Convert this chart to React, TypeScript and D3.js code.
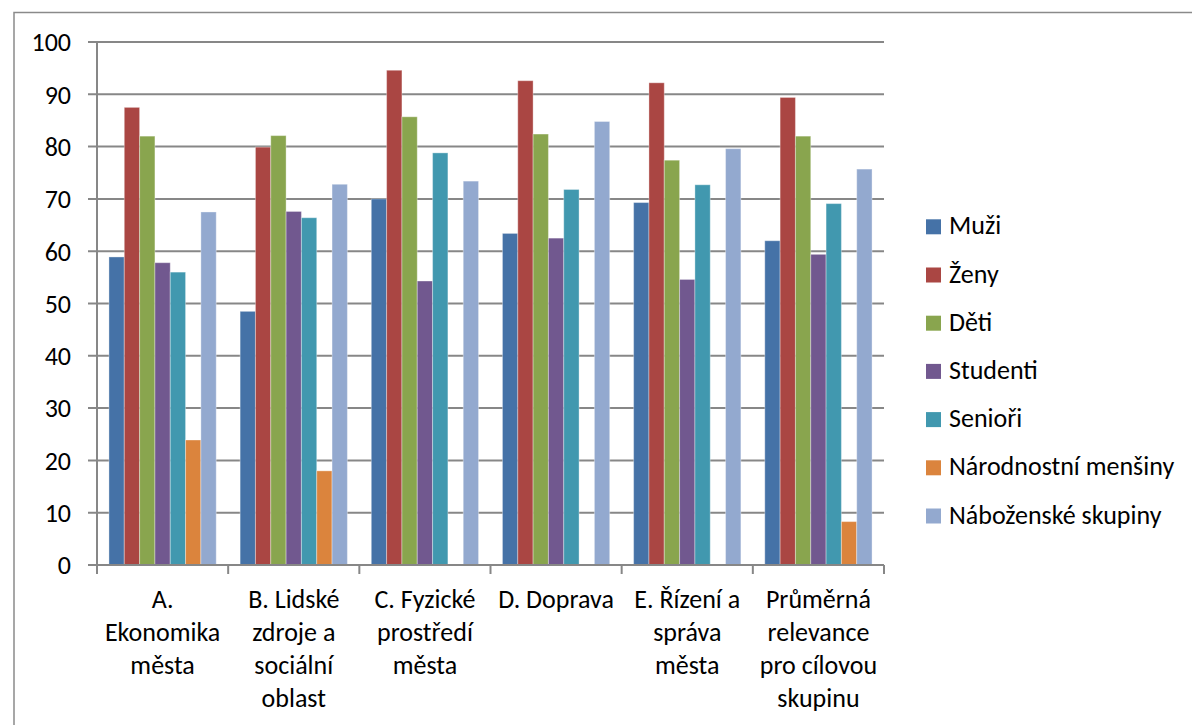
import React from "react";
import * as d3 from "d3";

const categories: string[] = [
  "A.\nEkonomika\nměsta",
  "B. Lidské\nzdroje a\nsociální\noblast",
  "C. Fyzické\nprostředí\nměsta",
  "D. Doprava",
  "E. Řízení a\nspráva\nměsta",
  "Průměrná\nrelevance\npro cílovou\nskupinu",
];

const seriesNames: string[] = [
  "Muži",
  "Ženy",
  "Děti",
  "Studenti",
  "Senioři",
  "Národnostní menšiny",
  "Náboženské skupiny",
];

const muzi = [58.9, 48.5, 70.0, 63.4, 69.3, 62.0];
const zeny = [87.5, 79.9, 94.6, 92.6, 92.2, 89.4];
const deti = [82.0, 82.1, 85.7, 82.4, 77.4, 82.0];
const studenti = [57.8, 67.6, 54.3, 62.5, 54.6, 59.4];
const seniori = [56.0, 66.4, 78.8, 71.8, 72.7, 69.1];
const narodnostni = [23.9, 18.0, 0, 0, 0, 8.3];
const nabozenske = [67.5, 72.8, 73.4, 84.8, 79.6, 75.7];

const seriesValues: number[][] = [muzi, zeny, deti, studenti, seniori, narodnostni, nabozenske];

const colors: string[] = ["#4572A7", "#AA4643", "#89A54E", "#71588F", "#4198AF", "#DB843D", "#93A9CF"];

const yTicks: number[] = [0, 10, 20, 30, 40, 50, 60, 70, 80, 90, 100];

export default function App() {
  const W = 1192;
  const H = 725;
  const left = 97;
  const right = 884;
  const top = 42;
  const bottom = 565;
  const font = "Carlito, Calibri, Lato, sans-serif";
  const fs = 26;
  const grid = "#878787";

  const x0 = d3.scaleBand<number>().domain(d3.range(categories.length)).range([left, right]).padding(0);
  const x1 = d3
    .scaleBand<number>()
    .domain(d3.range(seriesNames.length))
    .range([0, x0.bandwidth()])
    .paddingInner(0)
    .paddingOuter(0.78);
  const y = d3.scaleLinear().domain([0, 100]).range([bottom, top]);

  const groupEdges = d3.range(categories.length + 1).map((i) =>
    i < categories.length ? (x0(i) as number) : right
  );

  return (
    <svg
      width={W}
      height={H}
      style={{ position: "absolute", left: 0, top: 0, background: "#fff" }}
      fontFamily={font}
    >
      <rect x={0} y={0} width={W} height={H} fill="#fff" />
      <rect x={14} y={12.5} width={W + 50} height={H + 50} fill="none" stroke="#8a8a8a" strokeWidth={1.5} />

      {/* gridlines */}
      {yTicks.map((t) => (
        <line key={"g" + t} x1={left - 9} x2={right} y1={y(t)} y2={y(t)} stroke={grid} strokeWidth={2} />
      ))}

      {/* bars */}
      {categories.map((_, ci) => (
        <g key={"c" + ci} transform={`translate(${x0(ci)},0)`}>
          {seriesValues.map((vals, si) => {
            const v = vals[ci];
            if (!v) return null;
            return (
              <rect
                key={"b" + si}
                x={x1(si) as number}
                y={y(v)}
                width={x1.bandwidth()}
                height={y(0) - y(v)}
                fill={colors[si]}
                stroke="#ffffff"
                strokeOpacity={0.35}
                strokeWidth={1}
              />
            );
          })}
        </g>
      ))}

      {/* axes */}
      <line x1={left} x2={left} y1={top} y2={bottom} stroke={grid} strokeWidth={2} />
      <line x1={left} x2={right} y1={bottom} y2={bottom} stroke={grid} strokeWidth={2} />
      {groupEdges.map((gx, i) => (
        <line key={"t" + i} x1={gx} x2={gx} y1={bottom} y2={bottom + 9} stroke={grid} strokeWidth={2} />
      ))}

      {/* y labels */}
      {yTicks.map((t) => (
        <text
          key={"yl" + t}
          x={71}
          y={y(t)}
          dy="0.36em"
          textAnchor="end"
          fontSize={fs}
          fill="#000"
        >
          {t}
        </text>
      ))}

      {/* x labels */}
      {categories.map((c, ci) => {
        const cx = (x0(ci) as number) + x0.bandwidth() / 2;
        return (
          <text key={"xl" + ci} textAnchor="middle" fontSize={fs} fill="#000">
            {c.split("\n").map((line, li) => (
              <tspan key={li} x={cx} y={608 + li * 33}>
                {line}
              </tspan>
            ))}
          </text>
        );
      })}

      {/* legend */}
      {seriesNames.map((name, si) => {
        const cy = 226.8 + si * 48.2;
        return (
          <g key={"lg" + si}>
            <rect x={926} y={cy - 7.5} width={15} height={15} fill={colors[si]} />
            <text x={949} y={cy + 7.5} fontSize={fs} fill="#000">
              {name}
            </text>
          </g>
        );
      })}
    </svg>
  );
}
